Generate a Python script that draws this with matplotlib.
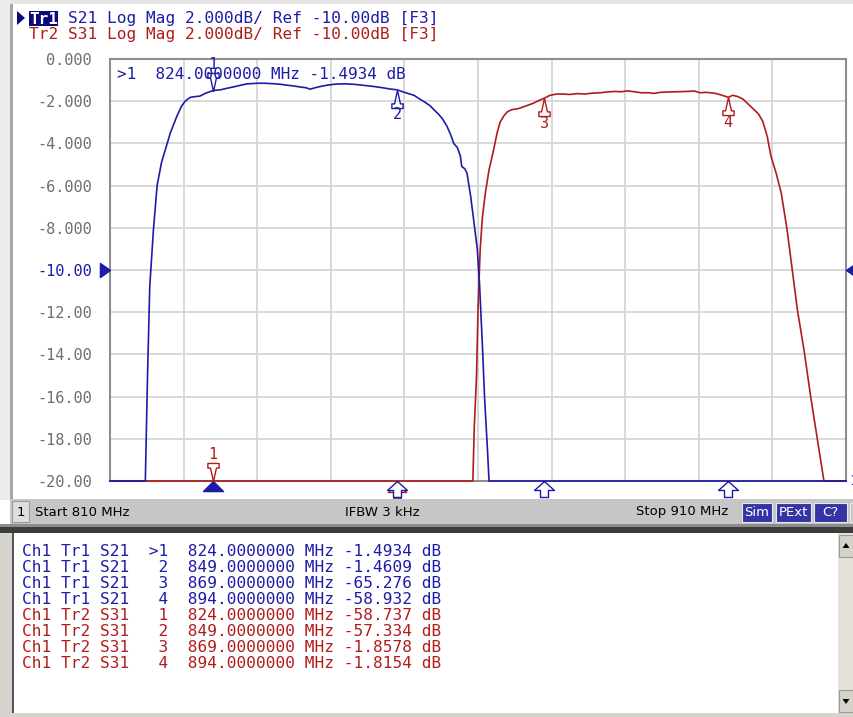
import matplotlib.pyplot as plt
import numpy as np
from matplotlib.path import Path
from matplotlib.patches import Rectangle, Polygon

W, H = 854, 717
BLUE = '#1c1ca8'
RED = '#b01c1c'
MONO = 'DejaVu Sans Mono'

# S21 (Tr1) trace, frequency in MHz and level in dB
s21_freq = [810, 814.6, 814.8, 815.1, 815.4, 815.9, 816.4, 817.0, 817.6, 818.2,
            819.1, 819.7, 820.2, 820.9, 821.6, 822.2, 823.0, 823.8, 824.0, 825.0,
            826.0, 826.8, 827.8, 828.6, 830.0, 831.0, 832.2, 833.2, 834.0, 835.0,
            835.9, 836.6, 837.2, 837.9, 838.6, 839.5, 840.4, 841.3, 842.2, 843.1,
            844.0, 845.0, 846.0, 847.0, 848.0, 849.0, 850.0, 851.3, 852.0, 852.8,
            853.5, 854.0, 854.6, 855.2, 855.8, 856.3, 856.7, 857.2, 857.6, 857.8,
            858.2, 858.5, 859.0, 859.4, 859.9, 860.2, 860.6, 860.9, 861.3, 861.5,
            861.7, 869.0, 894.0, 910.0]
s21_db = [-55, -38, -20.5, -15.0, -10.8, -8.1, -6.0, -4.9, -4.2, -3.5,
          -2.7, -2.25, -2.0, -1.82, -1.78, -1.76, -1.62, -1.52, -1.4934, -1.46,
          -1.38, -1.32, -1.24, -1.18, -1.15, -1.15, -1.17, -1.2, -1.24, -1.28,
          -1.33, -1.36, -1.43, -1.36, -1.3, -1.24, -1.2, -1.18, -1.18, -1.2,
          -1.23, -1.27, -1.31, -1.36, -1.42, -1.4609, -1.58, -1.72, -1.88, -2.05,
          -2.22, -2.4, -2.6, -2.85, -3.2, -3.6, -4.0, -4.2, -4.6, -5.1,
          -5.2, -5.4, -6.5, -7.6, -9.0, -10.6, -13.6, -16.1, -18.6, -20.2,
          -40, -65.276, -58.932, -55]

# S31 (Tr2) trace
s31_freq = [810, 824.0, 849.0, 859.3, 859.5, 859.8, 860.0, 860.3, 860.6, 861.0,
            861.5, 862.0, 862.6, 863.0, 863.5, 864.0, 864.6, 865.5, 866.7, 867.5,
            868.2, 869.0, 869.8, 870.7, 871.5, 872.5, 873.5, 874.5, 875.5, 876.7,
            877.5, 878.5, 879.5, 880.3, 881.2, 882.2, 883.2, 883.9, 884.8, 886.0,
            887.2, 888.2, 889.4, 890.2, 891.0, 892.1, 893.0, 894.0, 894.6, 895.3,
            896.0, 896.6, 897.5, 898.1, 898.7, 899.3, 899.8, 900.5, 901.2, 902.0,
            902.7, 903.4, 904.3, 905.2, 906.1, 907.0, 907.3, 910.0]
s31_db = [-60, -58.737, -57.334, -45, -17.4, -15.0, -11.9, -9.0, -7.5, -6.35,
          -5.25, -4.5, -3.5, -3.0, -2.7, -2.5, -2.4, -2.35, -2.2, -2.1,
          -1.98, -1.8578, -1.72, -1.66, -1.66, -1.68, -1.64, -1.66, -1.62, -1.6,
          -1.56, -1.54, -1.55, -1.51, -1.55, -1.6, -1.6, -1.63, -1.58, -1.56,
          -1.55, -1.54, -1.52, -1.6, -1.58, -1.62, -1.7, -1.8154, -1.72, -1.78,
          -1.9, -2.1, -2.4, -2.6, -2.96, -3.67, -4.6, -5.4, -6.35, -8.1,
          -10.0, -11.9, -13.8, -16.0, -18.0, -20.2, -40, -45]

marker_freq = [824.0, 849.0, 869.0, 894.0]
s21_marker_db = [-1.4934, -1.4609, -65.276, -58.932]
s31_marker_db = [-58.737, -57.334, -1.8578, -1.8154]

y_ticks = [0, -2, -4, -6, -8, -10, -12, -14, -16, -18, -20]
y_labels = ['0.000', '-2.000', '-4.000', '-6.000', '-8.000', '-10.00',
            '-12.00', '-14.00', '-16.00', '-18.00', '-20.00']
x_ticks = [810, 820, 830, 840, 850, 860, 870, 880, 890, 900, 910]

ref_level = -10
y_bottom, y_top = -20, 0
start_f, stop_f = 810, 910


def fx(x):
    return x / W


def fy(y):
    return 1 - y / H


def rect(fig, x0, y0, x1, y1, color, edge='none', lw=0, z=1):
    fig.add_artist(Rectangle((fx(x0), fy(y1)), (x1 - x0) / W, (y1 - y0) / H,
                             transform=fig.transFigure, facecolor=color,
                             edgecolor=edge, linewidth=lw, zorder=z))


def tri(fig, pts, color, z=3):
    fig.add_artist(Polygon([(fx(a), fy(b)) for a, b in pts], closed=True,
                           transform=fig.transFigure, facecolor=color,
                           edgecolor='none', zorder=z))


# marker shapes, apex at the data point
m_down = Path([(0, 0), (-0.22, 1.0), (-0.42, 1.0), (-0.42, 1.35), (0.42, 1.35),
               (0.42, 1.0), (0.22, 1.0), (0, 0)])
m_up = Path([(0, 0), (-0.22, -1.0), (-0.42, -1.0), (-0.42, -1.35), (0.42, -1.35),
             (0.42, -1.0), (0.22, -1.0), (0, 0)])
m_ind = Path([(0, 0), (-1.0, -0.9), (-0.4, -0.9), (-0.4, -1.6), (0.4, -1.6),
              (0.4, -0.9), (1.0, -0.9), (0, 0)])
m_ind_low = Path([(0, -0.3), (-1.0, -1.2), (-0.4, -1.2), (-0.4, -1.9), (0.4, -1.9),
                  (0.4, -1.2), (1.0, -1.2), (0, -0.3)])
m_active = Path([(0, 0), (-1.0, -1.0), (1.0, -1.0), (0, 0)])
m_ref_l = Path([(0, 0), (-1.0, 0.7), (-1.0, -0.7), (0, 0)])
m_ref_r = Path([(0, 0), (1.0, 0.7), (1.0, -0.7), (0, 0)])

fig = plt.figure(figsize=(W / 100, H / 100), dpi=100)
fig.patch.set_facecolor('white')

ax = fig.add_axes([fx(110), fy(481), 736 / W, 422 / H])
ax.set_xlim(start_f, stop_f)
ax.set_ylim(y_bottom, y_top)
ax.set_xticks(x_ticks)
ax.set_yticks(y_ticks)
ax.set_yticklabels(y_labels, fontfamily=MONO, fontsize=11, color='#6e6e6e')
ax.get_yticklabels()[y_ticks.index(ref_level)].set_color(BLUE)
ax.tick_params(axis='x', length=0, labelbottom=False)
ax.tick_params(axis='y', length=0, pad=13)
ax.grid(True, color='#d6d6d6', lw=1.3)
ax.set_axisbelow(True)
for sp in ax.spines.values():
    sp.set_color('#8e8e8e')
    sp.set_linewidth(1.5)

# traces, clipped to the bottom of the scale like the analyzer does
s31_show = np.maximum(np.array(s31_db), y_bottom)
s21_show = np.maximum(np.array(s21_db), y_bottom)
ax.plot(s31_freq, s31_show, color=RED, lw=1.2, clip_on=False, zorder=3)
ax.plot(s21_freq, s21_show, color=BLUE, lw=1.2, clip_on=False, zorder=4)

mk21 = np.maximum(np.array(s21_marker_db), y_bottom)
mk31 = np.maximum(np.array(s31_marker_db), y_bottom)

# stimulus indicators under the axis
ax.plot(marker_freq[1:2], [y_bottom], marker=m_ind_low, ms=25, mfc='white',
        mec=RED, mew=1.0, ls='none', clip_on=False, zorder=5)
ax.plot(marker_freq[1:], [y_bottom] * 3, marker=m_ind, ms=23, mfc='white',
        mec=BLUE, mew=1.0, ls='none', clip_on=False, zorder=6)
ax.plot(marker_freq[:1], [y_bottom], marker=m_active, ms=14.5, mfc=BLUE,
        mec=BLUE, ls='none', clip_on=False, zorder=6)

# on-trace markers
ax.plot(marker_freq[0], mk21[0], marker=m_down, ms=26, mfc='none', mec=BLUE,
        mew=1.0, clip_on=False, zorder=7)
ax.annotate('1', (marker_freq[0], mk21[0]), xytext=(0, 19), textcoords='offset points',
            ha='center', va='center', color=BLUE, fontfamily=MONO, fontsize=11)
ax.plot(marker_freq[1], mk21[1], marker=m_up, ms=26, mfc='none', mec=BLUE,
        mew=1.0, clip_on=False, zorder=7)
ax.annotate('2', (marker_freq[1], mk21[1]), xytext=(0, -18), textcoords='offset points',
            ha='center', va='center', color=BLUE, fontfamily=MONO, fontsize=11)
ax.plot(marker_freq[0], mk31[0], marker=m_down, ms=26, mfc='white', mec=RED,
        mew=1.0, clip_on=False, zorder=7)
ax.annotate('1', (marker_freq[0], mk31[0]), xytext=(0, 19), textcoords='offset points',
            ha='center', va='center', color=RED, fontfamily=MONO, fontsize=11)
for i, lab in [(2, '3'), (3, '4')]:
    ax.plot(marker_freq[i], mk31[i], marker=m_up, ms=26, mfc='none', mec=RED,
            mew=1.0, clip_on=False, zorder=7)
    ax.annotate(lab, (marker_freq[i], mk31[i]), xytext=(0, -18), textcoords='offset points',
                ha='center', va='center', color=RED, fontfamily=MONO, fontsize=11)

# reference level arrows
ax.plot(start_f, ref_level, marker=m_ref_l, ms=14.5, color=BLUE, clip_on=False, zorder=6)
ax.plot(stop_f, ref_level, marker=m_ref_r, ms=14.5, color=BLUE, clip_on=False, zorder=6)
ax.text(1.004, 0.0, '1', transform=ax.transAxes, color=BLUE, fontfamily=MONO,
        fontsize=10, ha='left', va='center')

ax.text(0.009, 0.963, '>1  %.7f MHz %.5g dB' % (marker_freq[0], s21_marker_db[0]),
        transform=ax.transAxes, color=BLUE, fontfamily=MONO, fontsize=11.5,
        ha='left', va='center')

# window frame
rect(fig, 0, 0, W, 4, '#e4e4e4')
rect(fig, 0, 0, 10, 500, '#ececec')
rect(fig, 10, 4, 13, 500, '#a6a6a6')

# header
tri(fig, [(17, 11), (25, 18), (17, 25)], '#0a0a78')
rect(fig, 29, 11, 58, 26, '#0a0a78', z=2)
fig.text(fx(29.5), fy(23.5), 'Tr1', color='white', fontfamily=MONO, fontsize=11.5,
         fontweight='bold', zorder=3)
fig.text(fx(68.5), fy(23.5), 'S21 Log Mag 2.000dB/ Ref -10.00dB [F3]', color=BLUE,
         fontfamily=MONO, fontsize=11.6)
fig.text(fx(29.5), fy(39.5), 'Tr2 S31 Log Mag 2.000dB/ Ref -10.00dB [F3]', color=RED,
         fontfamily=MONO, fontsize=11.6)

# status bar
rect(fig, 10, 499, W, 524, '#c6c6c6')
rect(fig, 12, 501, 29, 522, '#dedede', edge='#9a9a9a', lw=0.8)
fig.text(fx(20.5), fy(512), '1', ha='center', va='center', fontsize=9.5, color='black', zorder=3)
fig.text(fx(35), fy(512), 'Start 810 MHz', ha='left', va='center', fontsize=9.5, zorder=3)
fig.text(fx(382), fy(512), 'IFBW 3 kHz', ha='center', va='center', fontsize=9.5, zorder=3)
fig.text(fx(728), fy(512), 'Stop 910 MHz', ha='right', va='center', fontsize=9.5, zorder=3)
for x0, x1, lab in [(742, 772, 'Sim'), (776, 811, 'PExt'), (814, 847, 'C?')]:
    rect(fig, x0, 503, x1, 522, '#3434a4', edge='#e8e8e8', lw=0.8, z=2)
    fig.text(fx((x0 + x1) / 2), fy(512.5), lab, color='white', ha='center', va='center',
             fontsize=9.5, zorder=3)
rect(fig, 850, 503, 856, 522, '#c6c6c6', edge='#e8e8e8', lw=0.8, z=2)

# separator and marker table panel
rect(fig, 0, 524, W, 527, '#8c8c8c')
rect(fig, 0, 527, W, 533, '#3c3c3c')
rect(fig, 0, 533, W, H, '#d6d3cc')
rect(fig, 12, 533, 838, 713, 'white', z=2)
rect(fig, 12, 533, 14, 713, '#555555', z=2)
rect(fig, 838, 533, 854, 713, '#e4e1da', z=2)
rect(fig, 839, 535, 853, 557, '#d6d3cc', edge='#9a9a9a', lw=0.8, z=3)
rect(fig, 839, 690, 853, 712, '#d6d3cc', edge='#9a9a9a', lw=0.8, z=3)
tri(fig, [(842.5, 548), (849.5, 548), (846, 543)], 'black', z=4)
tri(fig, [(842.5, 699), (849.5, 699), (846, 704)], 'black', z=4)

rows = []
for i, f in enumerate(marker_freq):
    mk = '>1' if i == 0 else str(i + 1)
    rows.append(('Ch1 Tr1 S21  %2s  %.7f MHz %7s dB' % (mk, f, '%.5g' % s21_marker_db[i]), BLUE))
for i, f in enumerate(marker_freq):
    rows.append(('Ch1 Tr2 S31  %2s  %.7f MHz %7s dB' % (i + 1, f, '%.5g' % s31_marker_db[i]), RED))
for k, (txt, col) in enumerate(rows):
    fig.text(fx(22.5), fy(556.5 + 16.0 * k), txt, color=col, fontfamily=MONO,
             fontsize=11.6, zorder=4)

fig.savefig('out.png', dpi=100, facecolor='white')
